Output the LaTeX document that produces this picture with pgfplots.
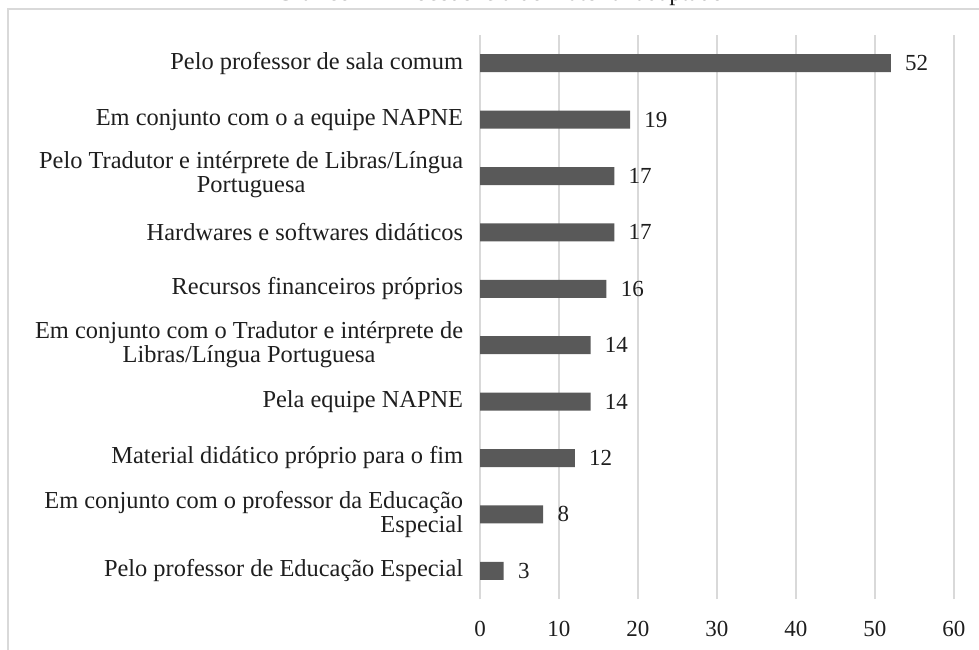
\documentclass[border=0pt]{standalone}
\usepackage{fontspec}
\setmainfont{Liberation Serif}
\usepackage{pgfplots}
\pgfplotsset{compat=1.18}
\definecolor{barc}{RGB}{89,89,89}
\definecolor{gridc}{RGB}{217,217,217}
\definecolor{txt}{RGB}{30,30,30}
\newcommand{\lf}{\fontsize{12.2bp}{12bp}\selectfont}
\newcommand{\nf}{\fontsize{11.5bp}{12bp}\selectfont}
\begin{document}
\begin{tikzpicture}
\path[use as bounding box] (0,0) rectangle (489.5bp,325bp);
\draw[gridc, line width=0.75bp] (4bp,-10bp) -- (4bp,320.5bp) -- (500bp,320.5bp);
\node[anchor=base, font=\lf, text=txt] at (250bp,324.9bp) {Gráfico 4 – Procedência do material adaptado};
\begin{axis}[
  at={(240bp,25.5bp)}, anchor=south west, scale only axis,
  width=237bp, height=282bp,
  xbar, bar width=9bp,
  xmin=0, xmax=60, ymin=-0.5, ymax=9.5,
  xtick={0,10,...,60}, ytick={0,...,9},
  yticklabels={
    Pelo professor de Educação Especial,
    {Em conjunto com o professor da Educação\\Especial},
    Material didático próprio para o fim,
    Pela equipe NAPNE,
    {\begin{tabular}{@{}c@{}}Em conjunto com o Tradutor e intérprete de\\Libras/Língua Portuguesa\end{tabular}},
    Recursos financeiros próprios,
    Hardwares e softwares didáticos,
    {\begin{tabular}{@{}c@{}}Pelo Tradutor e intérprete de Libras/Língua\\Portuguesa\end{tabular}},
    Em conjunto com o a equipe NAPNE,
    Pelo professor de sala comum},
  axis line style={draw=none}, major tick style={draw=none},
  xmajorgrids, grid style={gridc, line width=0.75bp},
  /pgf/number format/assume math mode=true,
  xticklabel style={font=\nf, text=txt, inner sep=0pt, anchor=north},
  yticklabel style={font=\lf, text=txt, align=right, inner sep=0pt},
  yticklabel shift=4bp,
  xticklabel shift=11bp,
  nodes near coords, nodes near coords align={horizontal},
  nodes near coords style={font=\nf, text=txt, anchor=west, inner sep=0pt, xshift=7bp},
]
\addplot[fill=barc, draw=none] coordinates {
  (3,0) (8,1) (12,2) (14,3) (14,4) (16,5) (17,6) (17,7) (19,8) (52,9)
};
\end{axis}
\end{tikzpicture}
\end{document}
